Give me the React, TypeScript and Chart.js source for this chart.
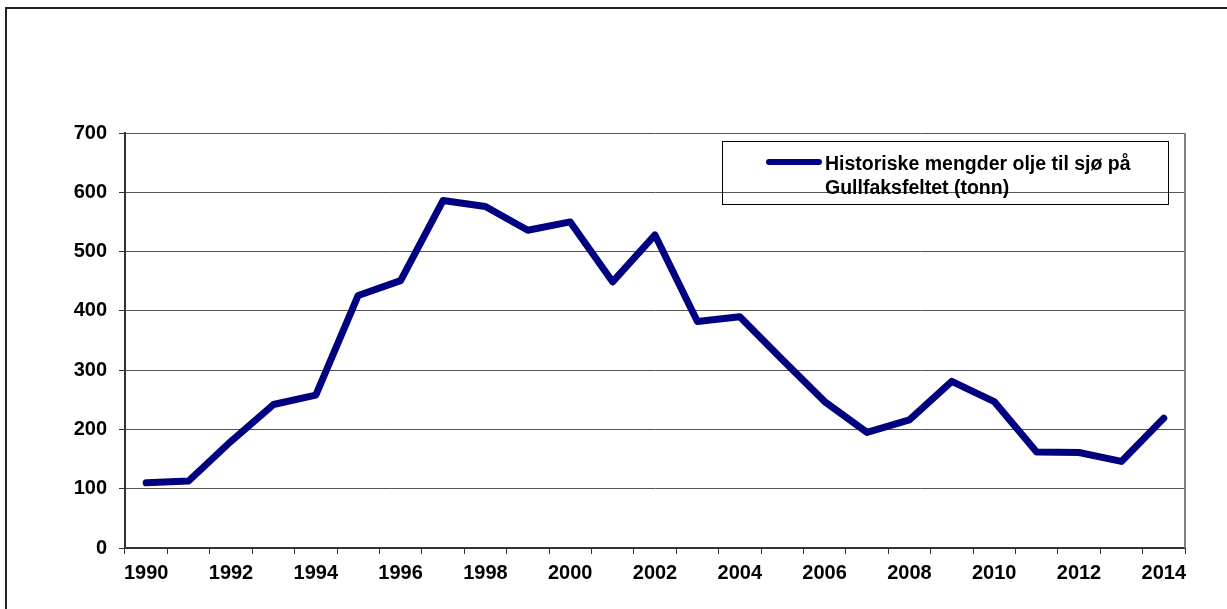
import React, { useEffect, useRef } from "react";
import { Chart, registerables } from "chart.js";

Chart.register(...registerables);

// Years on the category axis
const years: string[] = [
  "1990", "1991", "1992", "1993", "1994", "1995", "1996", "1997", "1998",
  "1999", "2000", "2001", "2002", "2003", "2004", "2005", "2006", "2007",
  "2008", "2009", "2010", "2011", "2012", "2013", "2014",
];

// Oil discharged to sea, tonnes per year
const oilToSea: number[] = [
  110, 113, 180, 242, 258, 426, 451, 586, 576, 536, 550, 449, 528,
  382, 390, 318, 247, 195, 216, 281, 247, 162, 161, 146, 219,
];

// Only every other year gets a printed label
const labelledYears: string[] = [
  "1990", "1992", "1994", "1996", "1998", "2000", "2002",
  "2004", "2006", "2008", "2010", "2012", "2014",
];

const legendLines: string[] = ["Historiske mengder olje til sjø på", "Gullfaksfeltet (tonn)"];

const FONT = "'Liberation Sans', Arial, sans-serif";
const NAVY = "#000080";

const framePlugin = {
  id: "frame",
  beforeDraw(chart: any) {
    const { ctx, width, height } = chart;
    ctx.save();
    ctx.fillStyle = "#fff";
    ctx.fillRect(0, 0, width, height);
    ctx.strokeStyle = "#222";
    ctx.lineWidth = 2;
    ctx.beginPath();
    ctx.moveTo(6, height + 5);
    ctx.lineTo(6, 8);
    ctx.lineTo(width + 5, 8);
    ctx.stroke();
    ctx.restore();
  },
  afterDraw(chart: any) {
    const { ctx, chartArea } = chart;
    ctx.save();
    // right edge of plot area
    ctx.strokeStyle = "#808080";
    ctx.lineWidth = 2;
    ctx.beginPath();
    ctx.moveTo(chartArea.right, chartArea.top);
    ctx.lineTo(chartArea.right, chartArea.bottom);
    ctx.stroke();

    // legend box
    ctx.strokeStyle = "#000";
    ctx.lineWidth = 1;
    ctx.strokeRect(722.5, 141.5, 446, 63);
    ctx.strokeStyle = NAVY;
    ctx.lineWidth = 6;
    ctx.lineCap = "round";
    ctx.beginPath();
    ctx.moveTo(769, 162);
    ctx.lineTo(819, 162);
    ctx.stroke();
    ctx.fillStyle = "#000";
    ctx.font = `bold 19.5px ${FONT}`;
    ctx.textBaseline = "alphabetic";
    ctx.textAlign = "left";
    ctx.fillText(legendLines[0], 825, 169.5);
    ctx.fillText(legendLines[1], 825, 194);
    ctx.restore();
  },
};

export default function App() {
  const canvasRef = useRef<HTMLCanvasElement | null>(null);

  useEffect(() => {
    const canvas = canvasRef.current;
    if (!canvas) return;
    const chart = new Chart(canvas, {
      type: "line",
      data: {
        labels: years,
        datasets: [
          {
            label: legendLines.join(" "),
            data: oilToSea,
            borderColor: NAVY,
            backgroundColor: NAVY,
            borderWidth: 7,
            pointRadius: 0,
            tension: 0,
            borderCapStyle: "round",
            borderJoinStyle: "round",
            fill: false,
          },
        ],
      },
      options: {
        responsive: false,
        animation: false,
        devicePixelRatio: 1,
        layout: { padding: { left: 0, right: 42, top: 133, bottom: 21 } },
        plugins: {
          legend: { display: false },
          tooltip: { enabled: false },
        },
        scales: {
          x: {
            type: "category",
            offset: true,
            grid: {
              offset: true,
              drawOnChartArea: false,
              tickLength: 6,
              tickColor: "#333",
              tickWidth: 1,
            },
            border: { color: "#333", width: 2 },
            ticks: {
              autoSkip: false,
              maxRotation: 0,
              minRotation: 0,
              padding: 7,
              color: "#000",
              font: { family: FONT, size: 20, weight: "bold" },
              callback: (_v: any, i: number) =>
                labelledYears.includes(years[i]) ? years[i] : "",
            },
            afterFit: (s: any) => {
              s.height = 40;
            },
          },
          y: {
            min: 0,
            max: 700,
            grid: {
              color: "#555",
              lineWidth: 1,
              tickLength: 6,
              tickColor: "#333",
            },
            border: { color: "#333", width: 2 },
            ticks: {
              stepSize: 100,
              padding: 12,
              color: "#000",
              font: { family: FONT, size: 20, weight: "bold" },
            },
            afterFit: (s: any) => {
              s.width = 125;
            },
          },
        },
      },
      plugins: [framePlugin],
    } as any);
    return () => chart.destroy();
  }, []);

  return (
    <div style={{ position: "fixed", left: 0, top: 0, width: 1227, height: 609, overflow: "hidden" }}>
      <canvas ref={canvasRef} width={1227} height={609} style={{ display: "block" }} />
    </div>
  );
}
